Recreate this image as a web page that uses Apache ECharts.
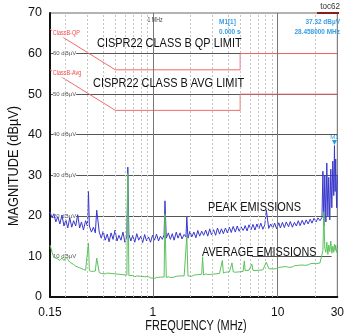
<!DOCTYPE html>
<html>
<head>
<meta charset="utf-8">
<script src="https://cdn.jsdelivr.net/npm/echarts@6/dist/echarts.min.js"></script>
<style>
  html, body { margin: 0; padding: 0; background: #fff; }
  #chart { width: 347px; height: 334px; }
</style>
</head>
<body>
<div id="chart"></div>
<script>
// frequency points (MHz) shared by both emission traces
var freqs = [
  0.150, 0.156, 0.161, 0.167, 0.173, 0.180, 0.187, 0.194, 0.201, 0.208,
  0.216, 0.224, 0.232, 0.241, 0.250, 0.259, 0.268, 0.278, 0.289, 0.299,
  0.305, 0.310, 0.322, 0.334, 0.346, 0.355, 0.372, 0.386, 0.400, 0.415,
  0.431, 0.446, 0.463, 0.480, 0.498, 0.516, 0.535, 0.555, 0.576, 0.597,
  0.619, 0.630, 0.642, 0.666, 0.690, 0.716, 0.743, 0.770, 0.799, 0.828,
  0.859, 0.890, 0.923, 0.958, 0.993, 1.03, 1.07, 1.11, 1.15, 1.19,
  1.23, 1.25, 1.28, 1.33, 1.38, 1.43, 1.48, 1.54, 1.59, 1.65,
  1.71, 1.78, 1.84, 1.87, 1.91, 1.98, 2.05, 2.13, 2.21, 2.29,
  2.37, 2.46, 2.50, 2.55, 2.65, 2.75, 2.85, 2.95, 3.06, 3.18,
  3.29, 3.42, 3.54, 3.60, 3.67, 3.81, 3.95, 4.10, 4.25, 4.30,
  4.40, 4.57, 4.74, 4.91, 5.09, 5.28, 5.40, 5.48, 5.68, 5.89,
  6.11, 6.20, 6.33, 6.57, 6.81, 7.06, 7.32, 7.60, 7.88, 8.10,
  8.47, 8.78, 9.11, 9.45, 9.79, 10.2, 10.5, 10.9, 11.3, 11.7,
  12.2, 12.6, 13.1, 13.6, 14.1, 14.6, 15.1, 15.7, 16.3, 16.9,
  17.5, 18.2, 18.8, 19.5, 20.3, 21.0, 21.8, 22.6, 23.0, 23.4,
  23.8, 24.3, 24.7, 25.2, 25.6, 26.1, 26.6, 27.1, 27.6, 28.1,
  28.458, 28.8, 29.1, 29.6, 30.0
];
// peak emissions (dBuV)
var peak = [
  21.0, 19.5, 20.5, 18.5, 19.8, 18.0, 20.2, 17.5, 19.0, 17.0,
  19.5, 17.2, 18.8, 17.5, 20.3, 17.0, 18.5, 16.5, 18.8, 17.5,
  26.0, 17.5, 16.0, 17.2, 15.8, 21.4, 16.0, 14.5, 16.2, 14.0,
  15.5, 13.6, 15.8, 14.2, 16.5, 13.8, 15.2, 14.0, 16.0, 13.5,
  15.0, 32.0, 15.5, 13.8, 15.2, 13.5, 15.6, 14.0, 15.0, 13.4,
  15.4, 13.8, 14.8, 13.5, 15.2, 14.0, 15.5, 13.8, 15.0, 14.2,
  15.3, 23.7, 14.5, 15.8, 14.2, 15.6, 14.0, 16.0, 14.5, 15.8,
  14.3, 15.4, 14.8, 19.7, 14.5, 16.2, 14.8, 16.0, 14.6, 16.4,
  15.0, 16.2, 16.0, 15.2, 16.5, 15.0, 16.8, 15.3, 16.6, 15.2,
  17.0, 15.5, 16.8, 16.5, 15.6, 17.0, 15.8, 17.2, 15.9, 16.5,
  17.4, 16.0, 17.5, 16.2, 17.3, 16.4, 17.0, 17.6, 16.3, 17.8,
  16.6, 17.0, 17.9, 16.5, 18.0, 16.8, 18.2, 16.7, 17.8, 21.4,
  16.9, 18.0, 17.0, 18.2, 16.8, 18.3, 17.0, 18.4, 17.1, 18.5,
  17.3, 18.6, 17.2, 18.4, 17.5, 18.8, 17.6, 18.9, 17.8, 19.0,
  18.0, 19.2, 18.2, 19.4, 18.5, 19.5, 18.8, 19.6, 31.0, 17.5,
  30.0, 18.5, 33.0, 20.0, 29.5, 19.0, 31.5, 22.0, 33.5, 25.0,
  37.32, 26.0, 34.0, 22.0, 30.0
];
// average emissions (dBuV)
var avg = [
  12.8, 11.0, 9.8, 9.5, 9.4, 9.0, 9.6, 9.0, 9.8, 9.3,
  8.6, 8.3, 8.0, 7.6, 7.5, 7.2, 7.0, 6.8, 6.6, 6.4,
  13.3, 6.5, 6.3, 6.1, 6.4, 9.6, 6.0, 5.8, 6.1, 5.7,
  5.9, 5.6, 5.8, 5.5, 5.7, 5.4, 5.6, 5.3, 5.5, 5.2,
  5.4, 30.5, 5.3, 5.1, 5.3, 5.0, 5.2, 4.9, 5.1, 4.8,
  5.0, 4.8, 5.0, 4.7, 4.9, 4.6, 4.8, 4.6, 4.9, 4.7,
  4.9, 20.5, 4.8, 5.0, 4.8, 5.1, 4.9, 5.1, 4.9, 5.2,
  5.0, 5.2, 5.0, 15.0, 5.2, 5.3, 5.1, 5.4, 5.2, 5.5,
  5.3, 5.6, 9.9, 5.4, 5.7, 5.5, 5.8, 5.6, 5.9, 5.7,
  6.0, 5.8, 6.0, 9.0, 5.9, 6.1, 6.0, 6.2, 6.1, 8.4,
  6.2, 6.1, 6.4, 6.2, 6.5, 6.3, 8.9, 6.5, 6.4, 6.6,
  6.5, 8.1, 6.6, 6.5, 6.8, 6.6, 6.9, 6.7, 7.0, 8.6,
  7.0, 7.1, 6.9, 7.2, 7.0, 7.3, 7.1, 7.4, 7.2, 7.5,
  7.3, 7.6, 7.4, 7.7, 7.6, 7.8, 7.6, 7.9, 7.8, 8.0,
  7.9, 8.2, 8.1, 8.3, 8.2, 8.5, 8.4, 8.7, 11.5, 21.0,
  12.0, 11.0, 13.5, 10.5, 12.8, 11.2, 13.8, 10.8, 12.5, 11.0,
  13.0, 11.5, 12.8, 11.0, 12.0
];
// CISPR22 class B limits
var limitFreqs = [0.15, 0.5, 5, 5, 30];
var qpLimit = [66, 56, 56, 60, 60];
var avgLimit = [56, 46, 46, 50, 50];
// axis ticks / grid
var xTicks = [0.15, 1, 10, 30];
var minorGridFreqs = [0.2, 0.3, 0.4, 0.5, 0.6, 0.7, 0.8, 0.9, 2, 3, 4, 5, 6, 7, 8, 9, 20];
var majorGridFreqs = [1, 10];
var marker = [28.458, 37.32];

var sans = '"Liberation Sans", Arial, sans-serif';

function pairs(xs, ys) {
  return xs.map(function (x, i) { return [x, ys[i]]; });
}

// text drawn a bit condensed, like the narrow font of the original
function txt(x, y, text, size, color, align, sx, extra) {
  var el = {
    type: 'text', x: x, y: y, z: 100, scaleX: sx || 1,
    style: {
      text: text, fill: color, fontSize: size, fontFamily: sans,
      textAlign: align || 'left', textVerticalAlign: 'middle'
    }
  };
  if (extra) for (var k in extra) el.style[k] = extra[k];
  return el;
}

var blueTxt = {fontWeight: 'bold'};

var chart = echarts.init(document.getElementById('chart'), null, {renderer: 'canvas'});

chart.setOption({
  animation: false,
  backgroundColor: '#fff',
  grid: {left: 50, right: 5, top: 13, bottom: 37, show: true, borderColor: '#666', borderWidth: 1},
  xAxis: {
    type: 'log',
    logBase: 10,
    min: 0.15,
    max: 30,
    axisLine: {show: true, lineStyle: {color: '#111', width: 2}},
    axisTick: {show: false},
    splitLine: {show: false},
    axisLabel: {
      customValues: xTicks,
      margin: 10,
      fontFamily: sans,
      fontSize: 12,
      color: '#111',
      formatter: function (v) { return String(parseFloat(Number(v).toPrecision(4))); }
    }
  },
  yAxis: [
    {
      type: 'value',
      min: 0,
      max: 70,
      interval: 10,
      axisLine: {show: true, lineStyle: {color: '#111', width: 2}},
      axisTick: {show: false},
      axisLabel: {margin: 8, fontFamily: sans, fontSize: 12.5, color: '#111'},
      splitLine: {
        show: true,
        showMinLine: false,
        showMaxLine: false,
        lineStyle: {color: ['rgba(0,0,0,0)', '#555', '#555', '#555', '#555', '#555'], width: 1}
      }
    },
    {
      type: 'value',
      min: 0,
      max: 70,
      interval: 10,
      position: 'left',
      z: 1,
      axisLine: {show: false},
      axisTick: {show: false},
      splitLine: {show: false},
      axisLabel: {
        inside: true,
        margin: 3,
        fontFamily: sans,
        fontSize: 6,
        color: '#555',
        backgroundColor: '#fff',
        formatter: function (v) { return (v > 0 && v < 70) ? v + ' dBµV' : ''; }
      }
    }
  ],
  series: [
    {
      name: 'grid',
      type: 'line',
      z: -1,
      data: [],
      silent: true,
      markLine: {
        silent: true,
        symbol: 'none',
        label: {show: false},
        data: minorGridFreqs.map(function (f) {
          return {xAxis: f, lineStyle: {color: '#c4c4c4', type: [2, 2], width: 1}};
        }).concat(majorGridFreqs.map(function (f) {
          return {xAxis: f, lineStyle: {color: '#777', type: 'solid', width: 1}};
        })).concat([
          [{coord: [6.2, 10], lineStyle: {color: '#555', type: 'solid', width: 1}}, {coord: [27, 10]}]
        ])
      }
    },
    {
      name: 'QP limit',
      type: 'line',
      data: pairs(limitFreqs, qpLimit),
      showSymbol: false,
      lineStyle: {color: '#f26a6a', width: 1},
      z: 3
    },
    {
      name: 'AVG limit',
      type: 'line',
      data: pairs(limitFreqs, avgLimit),
      showSymbol: false,
      lineStyle: {color: '#f26a6a', width: 1},
      z: 3
    },
    {
      name: 'Peak',
      type: 'line',
      data: pairs(freqs, peak),
      showSymbol: false,
      lineStyle: {color: '#3838cc', width: 1},
      z: 4,
      markPoint: {
        silent: true,
        data: [{
          coord: marker,
          symbol: 'triangle',
          symbolSize: [5, 5],
          symbolRotate: 180,
          symbolOffset: [0, -3],
          itemStyle: {color: '#2b9be0'},
          label: {show: true, position: 'top', distance: 0, formatter: 'M1', fontSize: 6, color: '#2b9be0', fontFamily: sans}
        }]
      }
    },
    {
      name: 'Average',
      type: 'line',
      data: pairs(freqs, avg),
      showSymbol: false,
      lineStyle: {color: '#5cc35c', width: 1},
      z: 5
    }
  ],
  graphic: [
    txt(340, 7, 'toc62', 9, '#333', 'right', 0.9),
    {type: 'rect', x: 317, y: 12, z: 100, shape: {width: 22, height: 2}, style: {fill: '#8b1c1c'}},
    txt(155, 20, '1 MHz', 6.5, '#444', 'center', 0.8),
    txt(219, 22, 'M1[1]', 6.8, '#3a9ee4', 'left', 0.95, blueTxt),
    txt(219, 32, '0.000 s', 6.8, '#3a9ee4', 'left', 0.95, blueTxt),
    txt(340, 22, '37.32 dBµV', 6.8, '#3a9ee4', 'right', 0.95, blueTxt),
    txt(340, 32, '28.458000 MHz', 6.8, '#3a9ee4', 'right', 0.95, blueTxt),
    txt(52, 33, 'ClassB-QP', 7, '#f04848', 'left', 0.78, {backgroundColor: '#fff', padding: [1, 1]}),
    txt(52, 73, 'ClassB-Avg', 7, '#f04848', 'left', 0.78, {backgroundColor: '#fff', padding: [1, 1]}),
    txt(97, 43, 'CISPR22 CLASS B QP LIMIT', 13.5, '#111', 'left', 0.81),
    txt(93, 83, 'CISPR22 CLASS B AVG LIMIT', 13.5, '#111', 'left', 0.81),
    txt(208, 207, 'PEAK EMISSIONS', 13.5, '#111', 'left', 0.81),
    txt(202, 252, 'AVERAGE EMISSIONS', 13.5, '#111', 'left', 0.8),
    txt(196, 326, 'FREQUENCY (MHz)', 14, '#111', 'center', 0.78),
    {
      type: 'text', x: 14, y: 166, rotation: Math.PI / 2, scaleX: 0.88, z: 100,
      style: {text: 'MAGNITUDE (dBµV)', fill: '#111', fontSize: 14.5, fontFamily: sans, textAlign: 'center', textVerticalAlign: 'middle'}
    }
  ]
});
</script>
</body>
</html>
